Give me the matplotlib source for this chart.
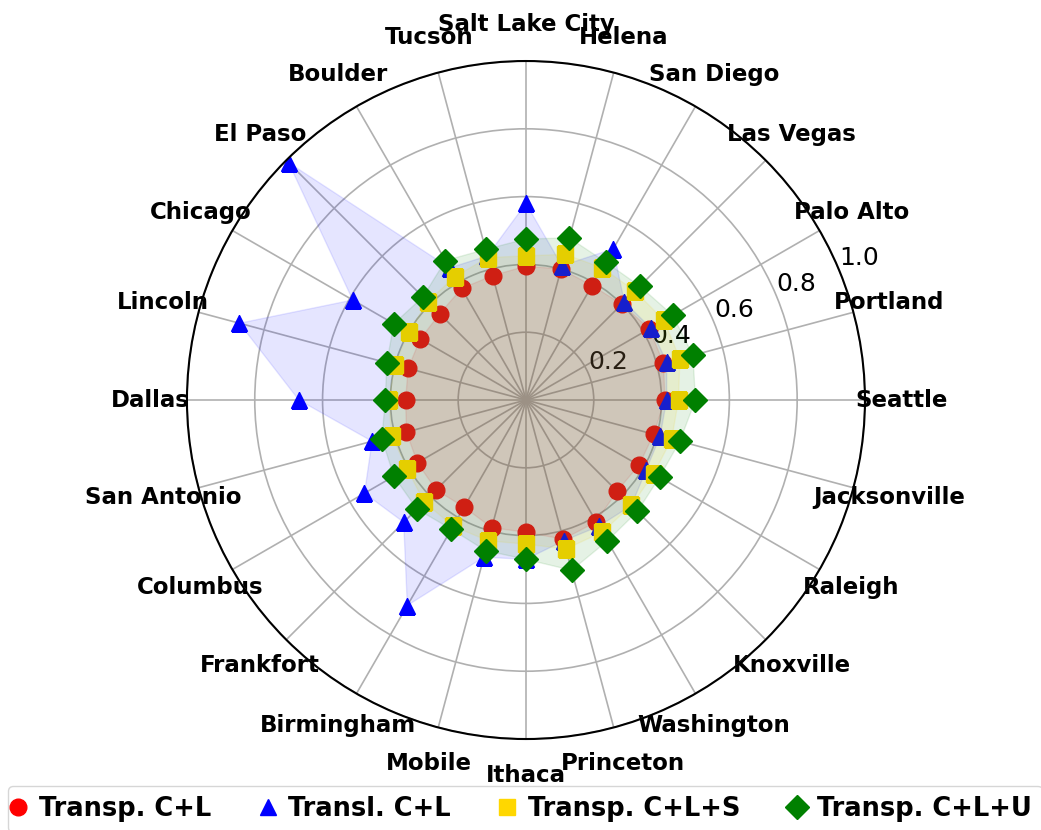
#!/usr/bin/env python3
#
import matplotlib
matplotlib.use('Agg')
import matplotlib.pyplot as plt
import numpy as np

parameters = {
  'font.family': ['DejaVu Sans'],
  'font.size': 16.0,
  'grid.linewidth': 1.2,
}
plt.rcParams.update(parameters)

CITIES = ['Seattle', 'Portland', 'Palo Alto', 'Las Vegas', 'San Diego', 'Helena',
          'Salt Lake City', 'Tucson', 'Boulder', 'El Paso', 'Chicago', 'Lincoln',
          'Dallas', 'San Antonio', 'Columbus', 'Frankfort', 'Birmingham', 'Mobile',
          'Ithaca', 'Princeton', 'Washington', 'Knoxville', 'Raleigh', 'Jacksonville']

transp_cl = [0.41, 0.42, 0.42, 0.40, 0.39, 0.40, 0.395, 0.38, 0.38, 0.36, 0.36, 0.36,
             0.355, 0.365, 0.37, 0.375, 0.365, 0.39, 0.39, 0.425, 0.415, 0.38, 0.385, 0.39]
transl_cl = [0.415, 0.43, 0.425, 0.41, 0.515, 0.41, 0.58, 0.44, 0.45, 0.99, 0.59, 0.875,
             0.67, 0.47, 0.55, 0.51, 0.70, 0.48, 0.47, 0.43, 0.43, 0.44, 0.41, 0.41]
transp_cls = [0.45, 0.47, 0.47, 0.455, 0.45, 0.445, 0.425, 0.435, 0.42, 0.41, 0.40, 0.40,
              0.405, 0.41, 0.405, 0.425, 0.43, 0.43, 0.425, 0.455, 0.45, 0.44, 0.435, 0.445]
transp_clu = [0.50, 0.51, 0.50, 0.475, 0.47, 0.495, 0.475, 0.46, 0.475, 0.43, 0.45, 0.425,
              0.415, 0.44, 0.45, 0.455, 0.44, 0.46, 0.47, 0.52, 0.48, 0.465, 0.455, 0.47]

SERIES = [
  ('Transp. C+L', transp_cl, 'o', 'red'),
  ('Transl. C+L', transl_cl, '^', 'blue'),
  ('Transp. C+L+S', transp_cls, 's', 'gold'),
  ('Transp. C+L+U', transp_clu, 'D', 'green'),
]


def main():
  angles = np.linspace(0, 2 * np.pi, len(CITIES), endpoint=False)

  fig = plt.figure(figsize=(10.41, 8.30), dpi=100)
  ax = fig.add_axes([0.1796, 0.1096, 0.6513, 0.8169], projection='polar')

  # markers first, then the translucent fill on top of them (same zorder)
  for label, values, marker, color in SERIES:
    ax.plot(angles, values, marker, color=color, markersize=12, linestyle='none',
            label=label, zorder=2)
    ax.fill(angles, values, color=color, alpha=0.1, zorder=2)

  ax.set_ylim(0, 1.0)
  ax.set_rticks([0.2, 0.4, 0.6, 0.8, 1.0])
  ax.tick_params(axis='y', labelsize=18)
  ax.set_xticks(angles)
  ax.set_xticklabels(CITIES, fontsize=16.5, fontweight='bold')
  ax.tick_params(axis='x', pad=16)
  ax.spines['polar'].set_linewidth(1.5)

  fig.legend(loc='upper left', bbox_to_anchor=(0.0077, 0.0534), ncol=4,
             borderaxespad=0, handlelength=0, columnspacing=2.2,
             prop={'weight': 'bold', 'size': 18.5})

  fig.savefig('out.png', dpi=100)
  plt.close(fig)


if __name__ == '__main__':
  main()
